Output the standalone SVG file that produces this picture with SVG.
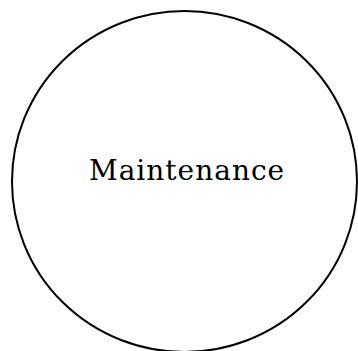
<svg xmlns="http://www.w3.org/2000/svg" width="358" height="351" viewBox="0 0 358 351">
<style>
.node-shape{fill:#ffffff;stroke:#000000;stroke-width:2}
.label{font-family:"DejaVu Serif",serif;font-size:28px;fill:#000000;letter-spacing:1px}
</style>
<rect width="358" height="351" fill="#ffffff"/>
<g id="connectors"></g>
<g id="maintenance">
<ellipse class="node-shape" cx="184.5" cy="181.5" rx="172.5" ry="170.5"/>
<text class="label" x="89" y="180">Maintenance</text>
</g>
</svg>
